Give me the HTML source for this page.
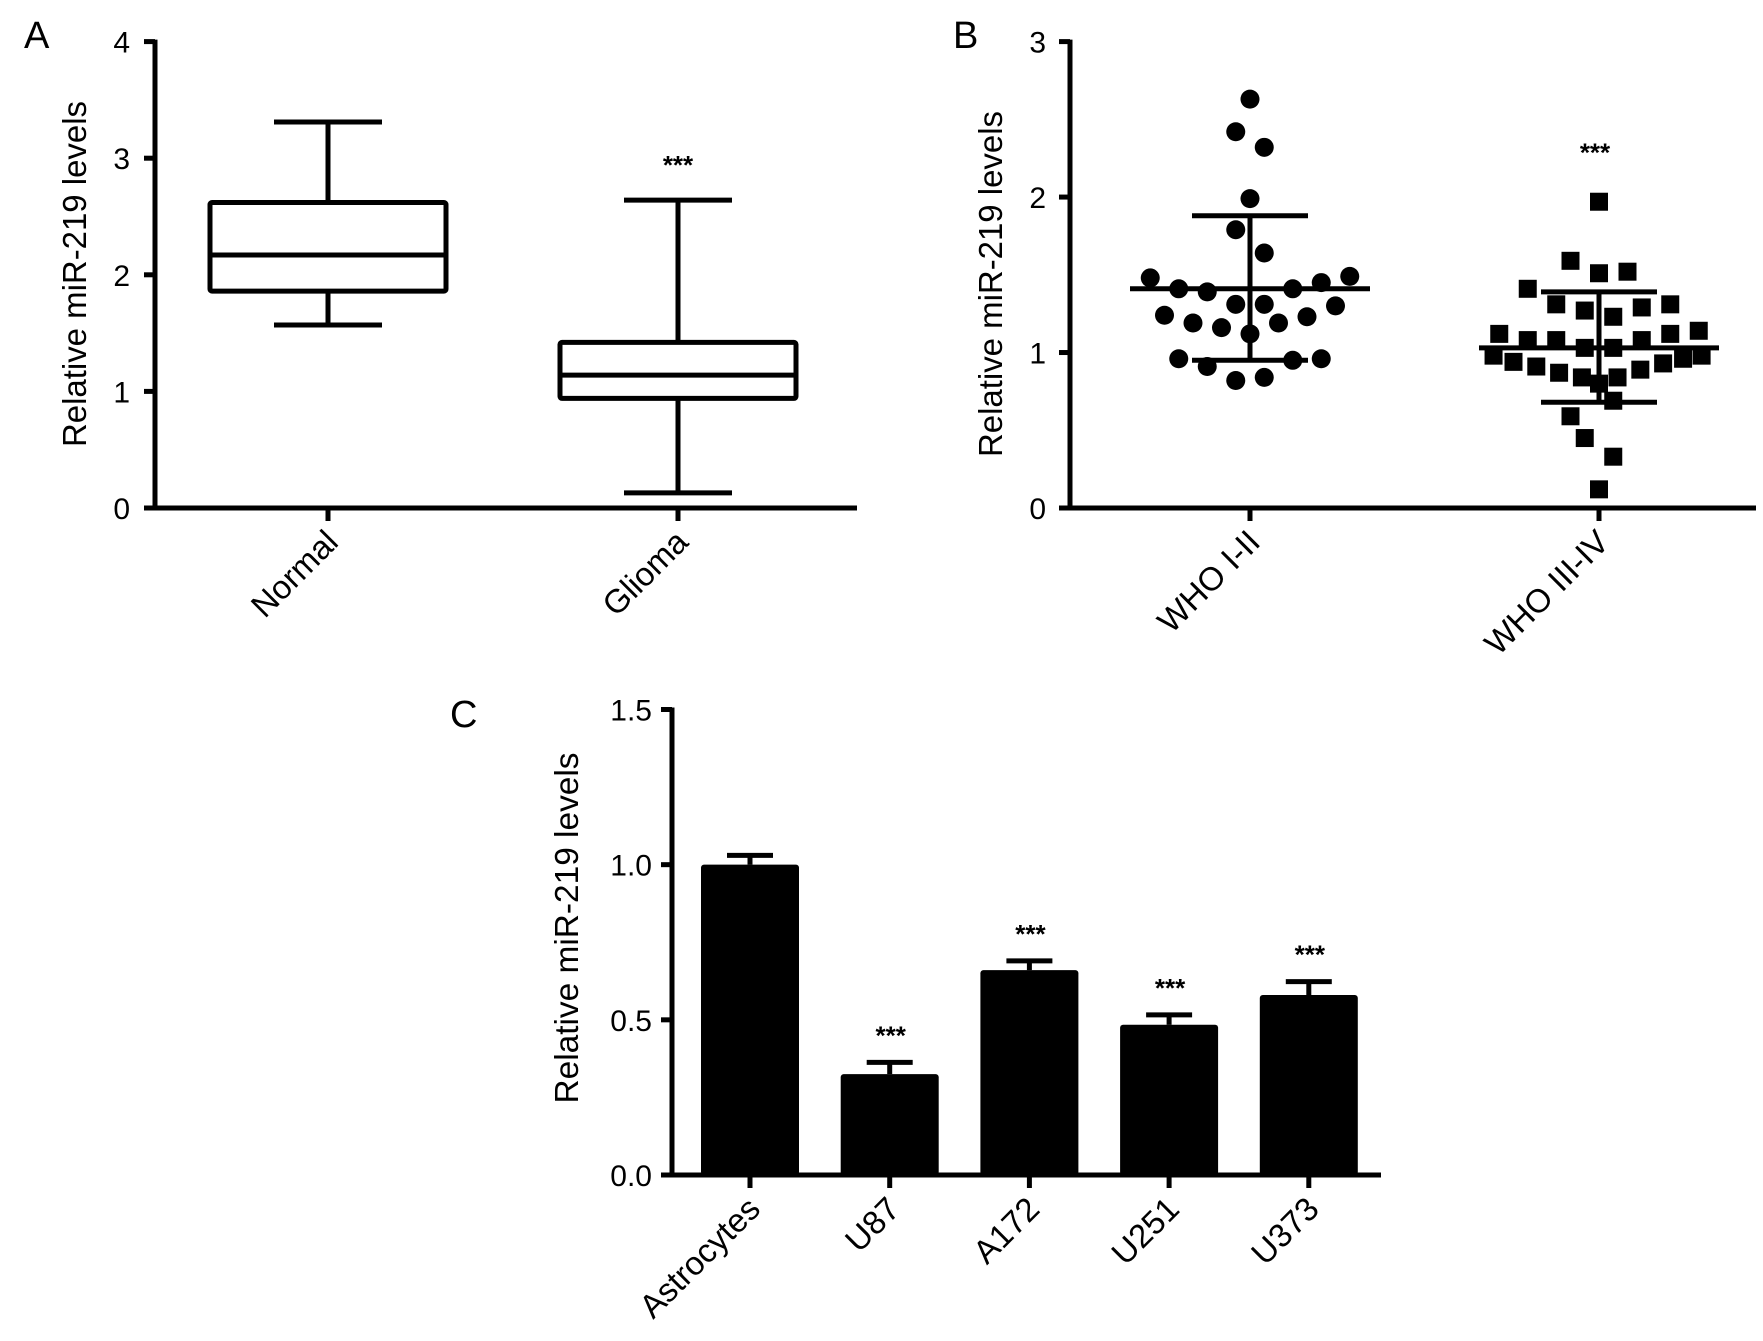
<!DOCTYPE html>
<html><head><meta charset="utf-8">
<style>
html,body{margin:0;padding:0;background:#fff;}
svg{display:block;font-family:"Liberation Sans",Arial,sans-serif;}
</style></head>
<body>
<svg id="fig" width="1763" height="1341" viewBox="0 0 1763 1341" xmlns="http://www.w3.org/2000/svg">
<rect x="0" y="0" width="1763" height="1341" fill="#fff"/>
</svg>
<script>
// ---- Panel A data (box plot) ----
const aCategories = ["Normal", "Glioma"];
const aMin = [1.57, 0.13];
const aQ1 = [1.86, 0.94];
const aMedian = [2.17, 1.14];
const aQ3 = [2.62, 1.42];
const aMax = [3.31, 2.64];
const aTicks = [0, 1, 2, 3, 4];
const aSig = ["", "***"];

// ---- Panel B data (scatter) ----
const bCategories = ["WHO I-II", "WHO III-IV"];
const bGroup1 = [2.63,2.42,2.32,1.99,1.79,1.64,1.48,1.49,1.41,1.39,1.41,1.45,1.31,1.31,1.30,1.24,1.19,1.16,1.12,1.19,1.23,0.96,0.91,0.95,0.96,0.82,0.84];
const bGroup1Slot = [0,-0.5,0.5,0,-0.5,0.5,-3.5,3.5,-2.5,-1.5,1.5,2.5,-0.5,0.5,3,-3,-2,-1,0,1,2,-2.5,-1.5,1.5,2.5,-0.5,0.5];
const bGroup2 = [1.97,1.59,1.51,1.52,1.41,1.31,1.27,1.23,1.29,1.31,1.12,1.08,1.08,1.03,1.03,1.08,1.12,1.14,0.98,0.94,0.91,0.87,0.84,0.80,0.84,0.89,0.93,0.96,0.98,0.69,0.59,0.45,0.33,0.12];
const bGroup2Slot = [0,-1,0,1,-2.5,-1.5,-0.5,0.5,1.5,2.5,-3.5,-2.5,-1.5,-0.5,0.5,1.5,2.5,3.5,-3.7,-3,-2.2,-1.4,-0.6,0,0.65,1.45,2.25,2.95,3.6,0.5,-1,-0.5,0.5,0];
const bMean = [1.41, 1.03];
const bSdHigh = [1.88, 1.39];
const bSdLow = [0.95, 0.68];
const bTicks = [0, 1, 2, 3];
const bSig = ["", "***"];

// ---- Panel C data (bars) ----
const cCategories = ["Astrocytes", "U87", "A172", "U251", "U373"];
const cValues = [1.0, 0.325, 0.66, 0.484, 0.58];
const cErrors = [0.03, 0.038, 0.03, 0.032, 0.043];
const cTicks = ["0.0", "0.5", "1.0", "1.5"];
const cSig = ["", "***", "***", "***", "***"];

const NS = "http://www.w3.org/2000/svg";
const svg = document.getElementById("fig");
function mk(tag, attrs, parent) {
  const e = document.createElementNS(NS, tag);
  for (const k in attrs) e.setAttribute(k, attrs[k]);
  (parent || svg).appendChild(e);
  return e;
}
const SW = 5;

function axisY(g, x0, yTop, yBot, ticks, scale, labelX) {
  let el = mk("line", {x1:x0, y1:yTop-2, x2:x0, y2:yBot+2, stroke:"#000","stroke-width":SW}, g);
  
  
  ticks.forEach(t => {
    const v = parseFloat(t);
    const y = scale(v);
    let tk = mk("line", {x1:x0-11, y1:y, x2:x0, y2:y, stroke:"#000","stroke-width":SW}, g);
    
    
    let tl = mk("text", {x:labelX, y:y+11, "text-anchor":"end","font-size":30}, g);
    tl.textContent = String(t);
    
    
  });
}
function yTitle(g, cx, cy, len) {
  let t = mk("text", {x:0, y:0, transform:`translate(${cx},${cy}) rotate(-90)`, "text-anchor":"middle","font-size":33, textLength:len, lengthAdjust:"spacingAndGlyphs"}, g);
  t.textContent = "Relative miR-219 levels";
  
  
}
function xAxis(g, x0, x1, y, cats, xs, labelDy) {
  let el = mk("line", {x1:x0-2, y1:y, x2:x1, y2:y, stroke:"#000","stroke-width":SW}, g);
  
  
  cats.forEach((c, i) => {
    const x = xs(i);
    let tk = mk("line", {x1:x, y1:y, x2:x, y2:y+13, stroke:"#000","stroke-width":SW}, g);
    
    
    const lx = x + 12, ly = y + labelDy;
    let tl = mk("text", {x:lx, y:ly, transform:`rotate(-45 ${lx} ${ly})`, "text-anchor":"end","font-size":33}, g);
    tl.textContent = c;
    
    
  });
}
function panelLabel(g, x, y, s) {
  let t = mk("text", {x:x, y:y, "font-size":38}, g);
  t.textContent = s;
  
  
}
function stars(g, x, y, s) {
  let t = mk("text", {x:x, y:y, "text-anchor":"middle","font-size":26,"font-weight":"bold"}, g);
  t.textContent = s;
  
  
}

// ===== Panel A =====
(function(){
  const g = mk("g", {});
  
  
  const x0 = 155, yTop = 41.6, yBot = 508, xEnd = 857;
  const vmax = aTicks[aTicks.length-1];
  const ys = v => yBot - v/vmax*(yBot-yTop);
  const xs = i => 328 + i*350;
  panelLabel(g, 24, 48, "A");
  axisY(g, x0, yTop, yBot, aTicks, ys, 130);
  yTitle(g, 86, 274, 346);
  xAxis(g, x0, xEnd, yBot, aCategories, xs, 36);
  aCategories.forEach((c, i) => {
    const x = xs(i), hw = 118, cw = 54;
    const bg = mk("g", {}, g);
    
    
    const st = {stroke:"#000","stroke-width":SW, fill:"none"};
    mk("line", Object.assign({x1:x, y1:ys(aMax[i]), x2:x, y2:ys(aQ3[i])}, st), bg);
    mk("line", Object.assign({x1:x, y1:ys(aQ1[i]), x2:x, y2:ys(aMin[i])}, st), bg);
    mk("line", Object.assign({x1:x-cw, y1:ys(aMax[i]), x2:x+cw, y2:ys(aMax[i])}, st), bg);
    mk("line", Object.assign({x1:x-cw, y1:ys(aMin[i]), x2:x+cw, y2:ys(aMin[i])}, st), bg);
    mk("rect", Object.assign({x:x-hw, y:ys(aQ3[i]), width:2*hw, height:ys(aQ1[i])-ys(aQ3[i]), rx:2}, st), bg);
    mk("line", Object.assign({x1:x-hw, y1:ys(aMedian[i]), x2:x+hw, y2:ys(aMedian[i])}, st), bg);
    if (aSig[i]) stars(g, x, ys(aMax[i]) - 26, aSig[i]);
  });
})();

// ===== Panel B =====
(function(){
  const g = mk("g", {});
  
  
  const x0 = 1070, yTop = 41.6, yBot = 508, xEnd = 1756;
  const vmax = bTicks[bTicks.length-1];
  const ys = v => yBot - v/vmax*(yBot-yTop);
  const xs = i => 1250 + i*349;
  const slotW = 28.5;
  panelLabel(g, 953, 48, "B");
  axisY(g, x0, yTop, yBot, bTicks, ys, 1046);
  yTitle(g, 1002, 284, 346);
  xAxis(g, x0, xEnd, yBot, bCategories, xs, 36);
  bGroup1.forEach((v, j) => {
    let c = mk("circle", {cx:xs(0)+bGroup1Slot[j]*slotW, cy:ys(v), r:9.5, fill:"#000"}, g);
    
    
  });
  bGroup2.forEach((v, j) => {
    let s = mk("rect", {x:xs(1)+bGroup2Slot[j]*slotW-9, y:ys(v)-9, width:18, height:18, fill:"#000"}, g);
    
    
  });
  bCategories.forEach((c, i) => {
    const x = xs(i);
    const st = {stroke:"#000","stroke-width":SW};
    let m = mk("line", Object.assign({x1:x-120, y1:ys(bMean[i]), x2:x+120, y2:ys(bMean[i])}, st), g);
    
    
    let v = mk("line", Object.assign({x1:x, y1:ys(bSdHigh[i]), x2:x, y2:ys(bSdLow[i])}, st), g);
    
    
    let t1 = mk("line", Object.assign({x1:x-58, y1:ys(bSdHigh[i]), x2:x+58, y2:ys(bSdHigh[i])}, st), g);
    
    
    let t2 = mk("line", Object.assign({x1:x-58, y1:ys(bSdLow[i]), x2:x+58, y2:ys(bSdLow[i])}, st), g);
    
    
    if (bSig[i]) stars(g, x - 4, ys(2.23), bSig[i]);
  });
})();

// ===== Panel C =====
(function(){
  const g = mk("g", {});
  
  
  const x0 = 672, yTop = 709.5, yBot = 1175, xEnd = 1381;
  const vmax = parseFloat(cTicks[cTicks.length-1]);
  const ys = v => yBot - v/vmax*(yBot-yTop);
  const xs = i => 750 + i*139.7;
  panelLabel(g, 450, 727, "C");
  axisY(g, x0, yTop, yBot, cTicks, ys, 652);
  yTitle(g, 578, 928, 351);
  cCategories.forEach((c, i) => {
    const x = xs(i), hw = 49;
    const st = {stroke:"#000","stroke-width":SW};
    const top = ys(cValues[i]+cErrors[i]);
    let e1 = mk("line", Object.assign({x1:x, y1:top, x2:x, y2:ys(cValues[i])}, st), g);
    
    
    let e2 = mk("line", Object.assign({x1:x-23, y1:top, x2:x+23, y2:top}, st), g);
    
    
    let b = mk("rect", {x:x-hw, y:ys(cValues[i]), width:2*hw, height:yBot-ys(cValues[i]), rx:3, fill:"#000"}, g);
    
    
    if (cSig[i]) stars(g, x + 1, top - 18, cSig[i]);
  });
  xAxis(g, x0, xEnd, yBot, cCategories, xs, 36);
})();
</script>
</body></html>
